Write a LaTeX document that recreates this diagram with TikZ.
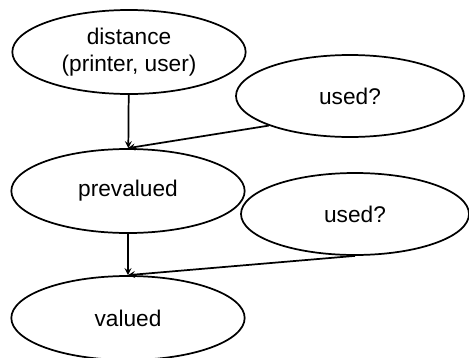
\documentclass[tikz,border=0pt]{standalone}
\usepackage{fontspec}
\setmainfont{Liberation Sans}
\usetikzlibrary{shapes.geometric}

\tikzset{
    % nodes
    state/.style={
        ellipse,
        draw=black,
        line width=1.3pt,
        inner sep=0pt,
        minimum width=175pt,
        minimum height=63pt,
        align=center,
        font=\fontsize{17}{20}\selectfont
    },
    query/.style={
        state,
        minimum width=171pt,
        minimum height=61.5pt
    },
    % arrows
    link/.style={
        ->,
        line width=1.3pt
    }
}

\begin{document}
\begin{tikzpicture}[x=0.75pt, y=-0.75pt, >=stealth]

    \useasboundingbox (0, 0) rectangle (469, 358);

    % draw nodes
    \node [state] (distance) at (129, 52) {distance\\(printer, user)};
    \node [query] (used-1) at (350, 96) {used?};
    \node [state] (prevalued) at (128, 191) {prevalued};
    \node [query] (used-2) at (355, 214) {used?};
    \node [state] (valued) at (128, 318) {valued};

    % draw edges
    \draw [link] (distance) -- (prevalued);
    \draw [link] (used-1.south west) -- (prevalued.north);
    \draw [link] (prevalued) -- (valued);
    \draw [link] (used-2.south) -- (valued.north);

\end{tikzpicture}
\end{document}
